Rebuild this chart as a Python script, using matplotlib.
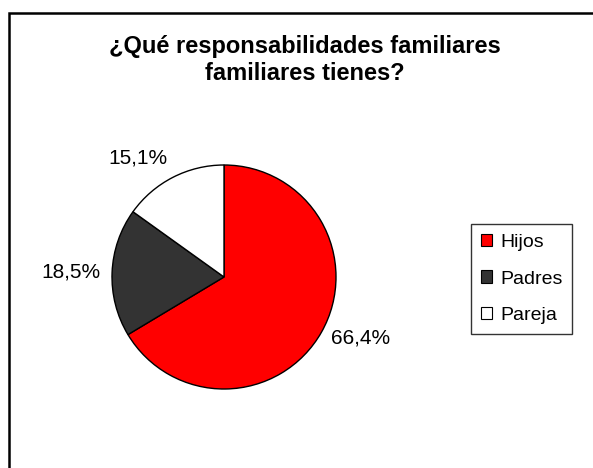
import matplotlib
matplotlib.use("Agg")
import matplotlib.pyplot as plt
from matplotlib.lines import Line2D
from matplotlib.patches import Patch
import numpy as np

plt.rcParams["font.family"] = ["Liberation Sans", "DejaVu Sans"]

labels = ["Hijos", "Padres", "Pareja"]
values = [66.4, 18.5, 15.1]
colors = ["#FF0000", "#333333", "#FFFFFF"]
pct_text = ["66,4%", "18,5%", "15,1%"]

W, H = 593, 468
fig = plt.figure(figsize=(W / 100, H / 100), dpi=100)

# chart border (cropped: only top and left edges visible)
fig.add_artist(Line2D([9 / W, 9 / W, 1.0], [0.0, 1 - 13 / H, 1 - 13 / H],
                      transform=fig.transFigure, color="black", linewidth=1.8,
                      solid_joinstyle="miter"))

fig.text(305 / W, 1 - 60 / H, "¿Qué responsabilidades familiares\nfamiliares tienes?",
         ha="center", va="center", fontsize=17, fontweight="bold",
         linespacing=1.25)

# pie: centre (224, 277), radius 112 px
ax = fig.add_axes([112 / W, 1 - 389 / H, 224 / W, 224 / H])
wedges, _ = ax.pie(values, colors=colors, startangle=90, counterclock=False,
                   wedgeprops=dict(edgecolor="black", linewidth=1.0))
ax.set_xlim(-1, 1)
ax.set_ylim(-1, 1)
ax.set_aspect("equal")
ax.axis("off")

for w, t in zip(wedges, pct_text):
    ang = np.deg2rad((w.theta1 + w.theta2) / 2)
    c, s = np.cos(ang), np.sin(ang)
    ha = "left" if c > 0 else "right"
    if abs(s) < 0.6:
        va = "center"
    else:
        va = "bottom" if s > 0 else "top"
    ax.text(1.1 * c, 1.1 * s, t, ha=ha, va=va, fontsize=15, clip_on=False)

handles = [Patch(facecolor=c, edgecolor="black", linewidth=0.8) for c in colors]
leg = fig.legend(handles, labels, loc="center", bbox_to_anchor=(521.5 / W, 1 - 279 / H),
                 frameon=True, fancybox=False, edgecolor="black", fontsize=14,
                 handlelength=0.6, handleheight=0.6, handletextpad=0.4,
                 labelspacing=1.0, borderpad=0.5, borderaxespad=0)
leg.get_frame().set_linewidth(1.0)

fig.savefig("out.png", dpi=100)
